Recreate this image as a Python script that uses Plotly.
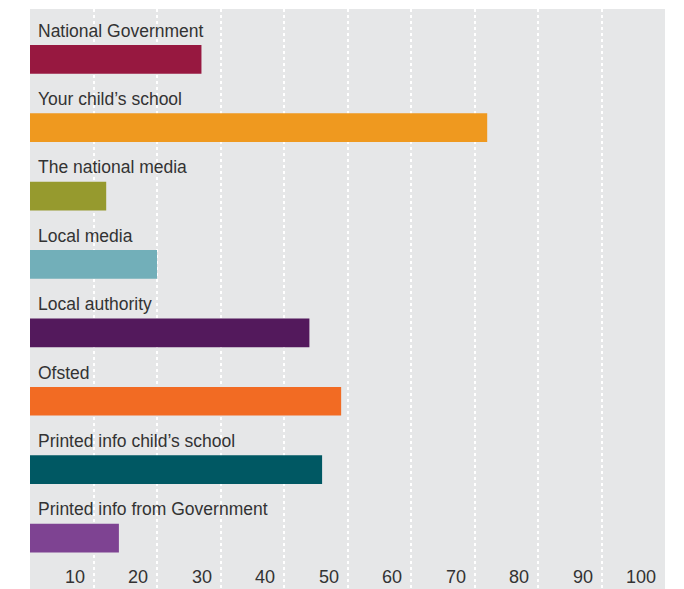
import plotly.graph_objects as go

categories = [
    "National Government",
    "Your child’s school",
    "The national media",
    "Local media",
    "Local authority",
    "Ofsted",
    "Printed info child’s school",
    "Printed info from Government",
]
values = [27, 72, 12, 20, 44, 49, 46, 14]
colors = ["#971840", "#ef991f", "#969a2e", "#72afb9", "#53195c", "#f26b23", "#005863", "#7e4392"]
tick_vals = [10, 20, 30, 40, 50, 60, 70, 80, 90, 100]
tick_text = ["10", "20", "30", "40", "50", "60", "70", "80", "90", "100"]

font_family = "Liberation Sans, Arial, sans-serif"
positions = list(range(len(categories)))

fig = go.Figure()
fig.add_trace(go.Bar(
    x=values,
    y=positions,
    orientation="h",
    marker=dict(color=colors, line=dict(width=0)),
    width=0.42,
    hoverinfo="skip",
))

annotations = []
for pos, name in zip(positions, categories):
    annotations.append(dict(
        x=0, y=pos - 0.42, xref="x", yref="y",
        text=name, showarrow=False, xanchor="left", yanchor="middle",
        xshift=6, font=dict(family=font_family, size=17.5, color="#333333"),
    ))
for tv, tt in zip(tick_vals, tick_text):
    annotations.append(dict(
        x=tv, y=0, xref="x", yref="paper",
        text=tt, showarrow=False, xanchor="right", yanchor="bottom",
        xshift=-7, yshift=0, font=dict(family=font_family, size=18, color="#333333"),
    ))

fig.update_layout(
    width=684, height=589,
    margin=dict(l=30, r=19, t=9, b=0),
    paper_bgcolor="white",
    plot_bgcolor="#e6e7e8",
    showlegend=False,
    annotations=annotations,
    xaxis=dict(
        range=[0, 100], tickvals=tick_vals, showticklabels=False,
        showgrid=True, gridcolor="white", gridwidth=2, griddash="dot",
        zeroline=False, showline=False, ticks="", fixedrange=True,
    ),
    yaxis=dict(
        range=[7.745, -0.735], showticklabels=False, showgrid=False,
        zeroline=False, showline=False, ticks="", fixedrange=True,
    ),
)

fig.write_html("out.html")
